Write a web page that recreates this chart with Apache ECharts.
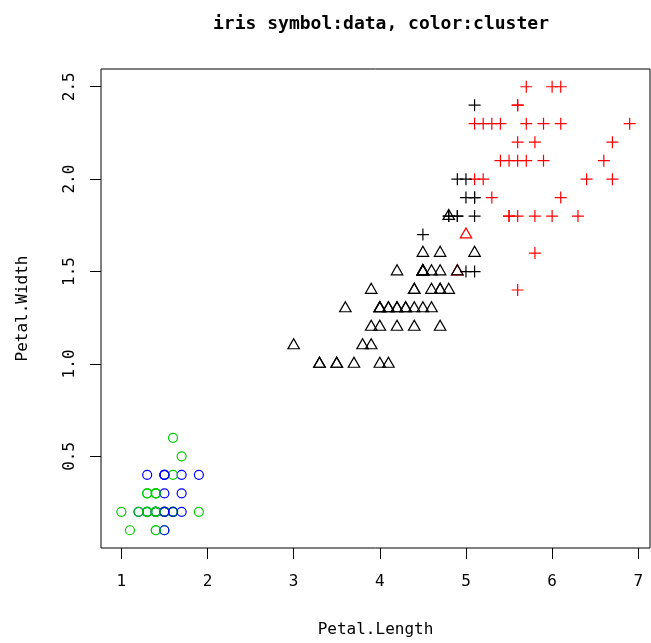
<!DOCTYPE html>
<html>
<head>
<meta charset="utf-8">
<script src="https://cdn.jsdelivr.net/npm/echarts@6/dist/echarts.min.js"></script>
<style>
  html, body { margin: 0; padding: 0; background: #fff; }
  #chart { width: 651px; height: 643px; }
</style>
</head>
<body>
<div id="chart"></div>
<script>
// Iris petal measurements; symbol = species, colour = k-means cluster (1..4)
var setosaLength = [1.4,1.4,1.3,1.5,1.4,1.7,1.4,1.5,1.4,1.5,1.5,1.6,1.4,1.1,1.2,1.5,1.3,1.4,1.7,1.5,1.7,1.5,1.0,1.7,1.9,1.6,1.6,1.5,1.4,1.6,1.6,1.5,1.5,1.4,1.5,1.2,1.3,1.4,1.3,1.5,1.3,1.3,1.3,1.6,1.9,1.4,1.6,1.4,1.5,1.4];
var setosaWidth  = [0.2,0.2,0.2,0.2,0.2,0.4,0.3,0.2,0.2,0.1,0.2,0.2,0.1,0.1,0.2,0.4,0.4,0.3,0.3,0.3,0.2,0.4,0.2,0.5,0.2,0.2,0.4,0.2,0.2,0.2,0.2,0.4,0.1,0.2,0.2,0.2,0.2,0.1,0.2,0.2,0.3,0.3,0.2,0.6,0.4,0.3,0.2,0.2,0.2,0.2];
var setosaCluster = [3,3,3,3,3,4,3,3,3,3,4,3,3,3,4,4,4,3,4,4,4,4,3,3,3,3,3,4,4,3,3,4,4,4,3,3,4,3,3,3,3,3,3,3,4,3,4,3,4,3];

var versicolorLength = [4.7,4.5,4.9,4.0,4.6,4.5,4.7,3.3,4.6,3.9,3.5,4.2,4.0,4.7,3.6,4.4,4.5,4.1,4.5,3.9,4.8,4.0,4.9,4.7,4.3,4.4,4.8,5.0,4.5,3.5,3.8,3.7,3.9,5.1,4.5,4.5,4.7,4.4,4.1,4.0,4.4,4.6,4.0,3.3,4.2,4.2,4.2,4.3,3.0,4.1];
var versicolorWidth  = [1.4,1.5,1.5,1.3,1.5,1.3,1.6,1.0,1.3,1.4,1.0,1.5,1.0,1.4,1.3,1.4,1.5,1.0,1.5,1.1,1.8,1.3,1.5,1.2,1.3,1.4,1.4,1.7,1.5,1.0,1.1,1.0,1.2,1.6,1.5,1.6,1.5,1.3,1.3,1.3,1.2,1.4,1.2,1.0,1.3,1.2,1.3,1.3,1.1,1.3];
var versicolorCluster = [1,1,2,1,1,1,1,1,1,1,1,1,1,1,1,1,1,1,1,1,1,1,1,1,1,1,1,2,1,1,1,1,1,1,1,1,1,1,1,1,1,1,1,1,1,1,1,1,1,1];

var virginicaLength = [6.0,5.1,5.9,5.6,5.8,6.6,4.5,6.3,5.8,6.1,5.1,5.3,5.5,5.0,5.1,5.3,5.5,6.7,6.9,5.0,5.7,4.9,6.7,4.9,5.7,6.0,4.8,4.9,5.6,5.8,6.1,6.4,5.6,5.1,5.6,6.1,5.6,5.5,4.8,5.4,5.6,5.1,5.1,5.9,5.7,5.2,5.0,5.2,5.4,5.1];
var virginicaWidth  = [2.5,1.9,2.1,1.8,2.2,2.1,1.7,1.8,1.8,2.5,2.0,1.9,2.1,2.0,2.4,2.3,1.8,2.2,2.3,1.5,2.3,2.0,2.0,1.8,2.1,1.8,1.8,1.8,2.1,1.6,1.9,2.0,2.2,1.5,1.4,2.3,2.4,1.8,1.8,2.1,2.4,2.3,1.9,2.3,2.5,2.3,1.9,2.0,2.3,1.8];
var virginicaCluster = [2,1,2,2,2,2,1,2,2,2,2,2,2,1,1,2,2,2,2,1,2,1,2,1,2,2,1,1,2,2,2,2,2,1,2,2,2,2,1,2,2,2,1,2,2,2,1,2,2,1];

var xTicks = [1, 2, 3, 4, 5, 6, 7];
var yTicks = [0.5, 1.0, 1.5, 2.0, 2.5];

var clusterColors = { 1: '#000000', 2: '#FF0000', 3: '#00CD00', 4: '#0000FF' };

var FONT = '"DejaVu Sans Mono", monospace';

function points(lengths, widths, clusters) {
  return lengths.map(function (l, i) {
    return {
      value: [l, widths[i]],
      itemStyle: { borderColor: clusterColors[clusters[i]] }
    };
  });
}

var baseStyle = { color: 'rgba(0,0,0,0)', borderWidth: 1.2, opacity: 1 };

var chart = echarts.init(document.getElementById('chart'), null, { renderer: 'canvas' });

chart.setOption({
  animation: false,
  title: {
    text: 'iris symbol:data, color:cluster',
    left: 376,
    top: 10,
    textAlign: 'center',
    textStyle: { fontFamily: FONT, fontSize: 18, fontWeight: 'bold', color: '#000' }
  },
  grid: {
    left: 101, top: 69, width: 549, height: 479,
    show: true, borderColor: '#000', borderWidth: 1, backgroundColor: '#fff'
  },
  xAxis: {
    type: 'value',
    min: 0.764, max: 7.136,
    name: 'Petal.Length',
    nameLocation: 'middle',
    nameGap: 74,
    nameTextStyle: { fontFamily: FONT, fontSize: 16, color: '#000' },
    axisLine: { show: false },
    splitLine: { show: false },
    axisTick: { show: true, length: 11, customValues: xTicks, lineStyle: { color: '#000', width: 1 } },
    axisLabel: { customValues: xTicks, margin: 26, fontFamily: FONT, fontSize: 16, color: '#000' }
  },
  yAxis: {
    type: 'value',
    min: 0.004, max: 2.596,
    name: 'Petal.Width',
    nameLocation: 'middle',
    nameGap: 70,
    nameRotate: 90,
    nameTextStyle: { fontFamily: FONT, fontSize: 16, color: '#000' },
    axisLine: { show: false },
    splitLine: { show: false },
    axisTick: { show: true, length: 11, customValues: yTicks, lineStyle: { color: '#000', width: 1 } },
    axisLabel: {
      customValues: yTicks, rotate: 90, margin: 23,
      fontFamily: FONT, fontSize: 16, color: '#000',
      formatter: function (v) { return v.toFixed(1); }
    }
  },
  series: [
    {
      name: 'setosa', type: 'scatter',
      symbol: 'circle', symbolSize: 9,
      itemStyle: baseStyle,
      data: points(setosaLength, setosaWidth, setosaCluster)
    },
    {
      name: 'versicolor', type: 'scatter',
      symbol: 'triangle', symbolSize: [11.5, 10], symbolOffset: [0, -1.7],
      itemStyle: baseStyle,
      data: points(versicolorLength, versicolorWidth, versicolorCluster)
    },
    {
      name: 'virginica', type: 'scatter',
      symbol: 'path://M0,6L12,6M6,0L6,12', symbolSize: 12,
      itemStyle: baseStyle,
      data: points(virginicaLength, virginicaWidth, virginicaCluster)
    }
  ]
});
</script>
</body>
</html>
